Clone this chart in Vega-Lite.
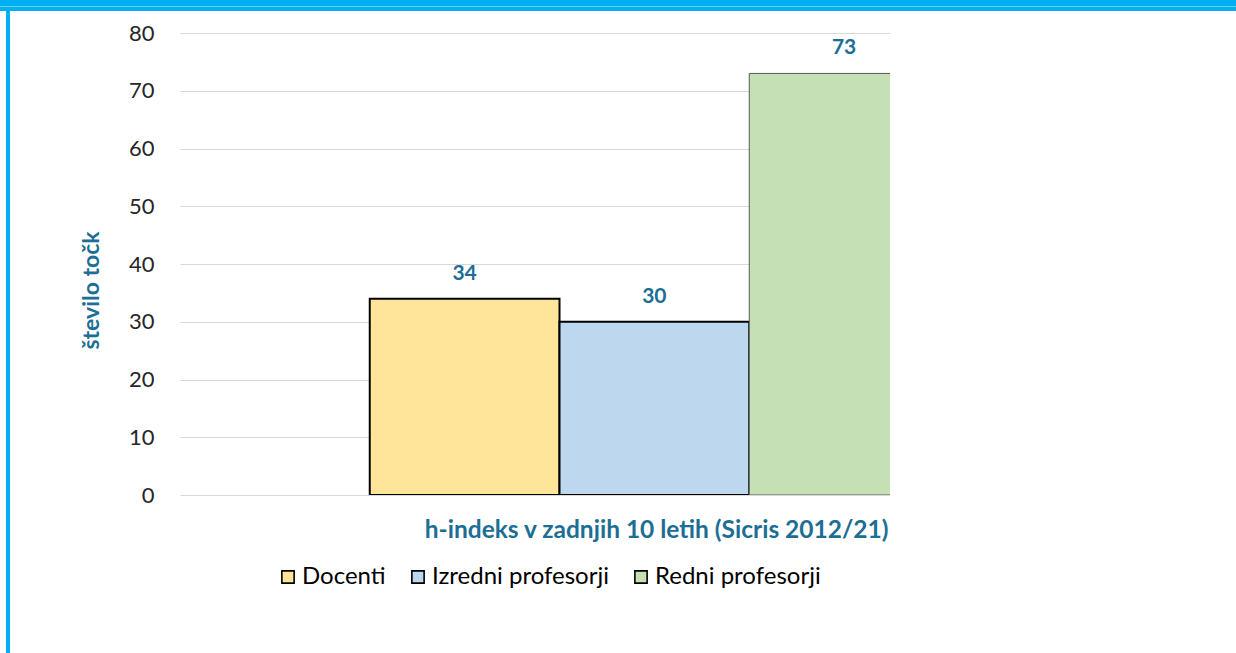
{
  "$schema": "https://vega.github.io/schema/vega-lite/v6.json",
  "padding": 0,
  "background": "white",
  "config": {
    "view": {"stroke": null},
    "font": "Lato",
    "concat": {"spacing": 0}
  },
  "datasets": {
    "hindeks": [
      {"kazalnik": "h-indeks v zadnjih 10 letih (Sicris 2012/21)", "grupa": "Docenti", "vrednost": 34},
      {"kazalnik": "h-indeks v zadnjih 10 letih (Sicris 2012/21)", "grupa": "Izredni profesorji", "vrednost": 30},
      {"kazalnik": "h-indeks v zadnjih 10 letih (Sicris 2012/21)", "grupa": "Redni profesorji", "vrednost": 73}
    ]
  },
  "bounds": "flush",
  "spacing": 0,
  "vconcat": [
    {
      "width": 1236,
      "height": 6,
      "view": {"fill": "#00B0F0", "stroke": null},
      "data": {"values": []},
      "mark": "rect",
      "encoding": {}
    },
    {
      "width": 1236,
      "height": 1,
      "view": {"fill": "#6CCDF3", "stroke": null},
      "data": {"values": []},
      "mark": "rect",
      "encoding": {}
    },
    {
      "width": 1236,
      "height": 4,
      "view": {"fill": "#00B0F0", "stroke": null},
      "data": {"values": []},
      "mark": "rect",
      "encoding": {}
    },
    {
      "bounds": "flush",
      "spacing": 180,
      "hconcat": [
        {
          "bounds": "flush",
          "spacing": 0,
          "hconcat": [
            {
              "width": 6,
              "height": 642,
              "view": {"fill": null, "stroke": null},
              "data": {"values": []},
              "mark": "rect",
              "encoding": {}
            },
            {
              "width": 4,
              "height": 642,
              "view": {"fill": "#00B0F0", "stroke": null},
              "data": {"values": []},
              "mark": "rect",
              "encoding": {}
            }
          ]
        },
        {
          "bounds": "flush",
          "spacing": 0,
          "vconcat": [
            {
              "width": 710,
              "height": 22,
              "view": {"fill": null, "stroke": null},
              "data": {"values": []},
              "mark": "rect",
              "encoding": {}
            },
            {
              "width": 710,
              "height": 462,
              "data": {"name": "hindeks"},
              "encoding": {
                "x": {
                  "field": "kazalnik",
                  "type": "nominal",
                  "scale": {"paddingInner": 0, "paddingOuter": 0},
                  "axis": {
                    "labels": false,
                    "ticks": false,
                    "domain": false,
                    "grid": false,
                    "title": "h-indeks v zadnjih 10 letih (Sicris 2012/21)",
                    "titleFont": "Lato",
                    "titleFontSize": 24.5,
                    "titleFontWeight": "bold",
                    "titleColor": "#1C6E95",
                    "titleX": 708,
                    "titleY": 35,
                    "titleAlign": "right",
                    "titleBaseline": "middle",
                    "titleAnchor": null
                  }
                },
                "xOffset": {
                  "field": "grupa",
                  "type": "nominal",
                  "scale": {
                    "domain": ["(prazno)", "Docenti", "Izredni profesorji", "Redni profesorji"],
                    "range": [0, 759],
                    "paddingInner": 0,
                    "paddingOuter": 0
                  }
                },
                "y": {
                  "field": "vrednost",
                  "type": "quantitative",
                  "scale": {"domain": [0, 80], "nice": false},
                  "axis": {
                    "values": [0, 10, 20, 30, 40, 50, 60, 70, 80],
                    "domain": false,
                    "ticks": false,
                    "grid": true,
                    "gridColor": "#D9D9D9",
                    "gridWidth": 1.2,
                    "labelFont": "Lato",
                    "labelFontSize": 22,
                    "labelColor": "#262626",
                    "labelPadding": 26,
                    "title": "število točk",
                    "titleFont": "Lato",
                    "titleFontSize": 23,
                    "titleFontWeight": "bold",
                    "titleColor": "#1C6E95",
                    "titleX": -89,
                    "titleY": 257,
                    "titleAlign": "center",
                    "titleBaseline": "middle",
                    "titleAngle": 270
                  }
                }
              },
              "layer": [
                {
                  "mark": {"type": "bar", "clip": true},
                  "encoding": {
                    "color": {
                      "field": "grupa",
                      "type": "nominal",
                      "scale": {
                        "domain": ["Docenti", "Izredni profesorji", "Redni profesorji"],
                        "range": ["#FEE599", "#BDD7EE", "#C5E0B4"]
                      },
                      "legend": {
                        "title": null,
                        "orient": "none",
                        "direction": "horizontal",
                        "legendX": 276,
                        "legendY": 565,
                        "symbolType": "square",
                        "symbolSize": 150,
                        "symbolStrokeColor": "#000000",
                        "symbolStrokeWidth": 1.6,
                        "symbolOpacity": 1,
                        "labelFont": "Lato",
                        "labelFontSize": 24,
                        "labelColor": "#000000",
                        "labelOffset": 2,
                        "columnPadding": 20,
                        "labelLimit": 400
                      }
                    },
                    "stroke": {
                      "condition": {"test": "datum.grupa === 'Redni profesorji'", "value": "#595959"},
                      "value": "#000000"
                    },
                    "strokeWidth": {
                      "condition": {"test": "datum.grupa === 'Redni profesorji'", "value": 1},
                      "value": 2
                    }
                  }
                },
                {
                  "mark": {
                    "type": "text",
                    "dy": -25,
                    "baseline": "middle",
                    "align": "center",
                    "font": "Lato",
                    "fontSize": 21,
                    "fontWeight": "bold",
                    "color": "#1C6E95"
                  },
                  "encoding": {
                    "text": {"field": "vrednost", "type": "quantitative"}
                  }
                }
              ]
            }
          ]
        }
      ]
    }
  ]
}
